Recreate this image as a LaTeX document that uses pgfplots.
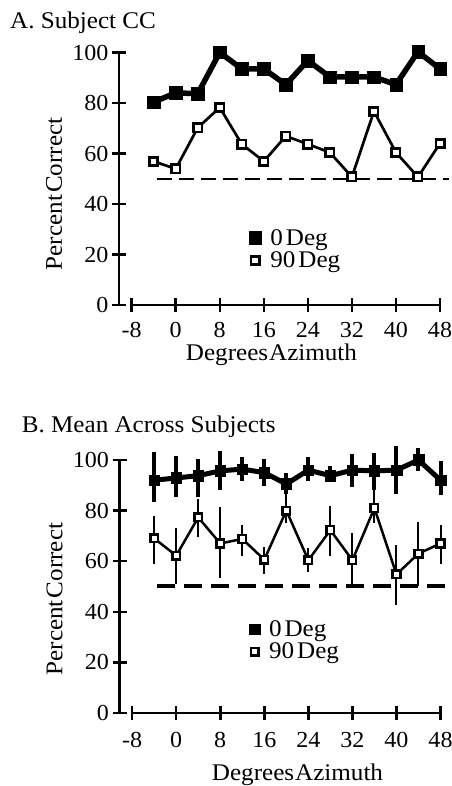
\documentclass[border=0pt]{standalone}
\usepackage{fontspec}
\setmainfont{Liberation Serif}[FakeStretch=1.05]
\usepackage{pgfplots}
\usepackage{pgfplotstable}
\pgfplotsset{compat=1.18}

% Panel A: Subject CC
\pgfplotstableread{
x y
-4 80.4
0 84.0
4 83.7
8 100
12 93.5
16 93.5
20 87.3
24 96.8
28 90.3
32 90.3
36 90.3
40 87.3
44 100.3
48 93.5
}\dataAzero
\pgfplotstableread{
x y
-4 56.9
0 53.9
4 70.2
8 78.2
12 63.7
16 56.9
20 66.9
24 63.7
28 60.4
32 50.7
36 76.7
40 60.4
44 50.7
48 64.0
}\dataAninety
% Panel B: Mean across subjects (y, error plus, error minus)
\pgfplotstableread{
x y ep em
-4 92.0 11.0 8.6
0 92.9 8.7 7.6
4 93.8 6.5 8.5
8 95.7 7.8 7.7
12 96.4 4.6 4.6
16 95.0 5.3 5.1
20 90.5 4.3 4.1
24 96.0 5.0 4.2
28 93.8 3.9 2.6
32 96.0 6.2 6.8
36 95.7 7.2 7.7
40 96.0 9.5 9.4
44 100.0 4.8 4.3
48 92.0 7.6 6.0
}\dataBzero
\pgfplotstableread{
x y ep em
-4 69.0 9.0 10.3
0 62.2 10.8 11.3
4 77.3 7.4 7.6
8 67.0 14.4 13.5
12 68.8 5.5 6.8
16 60.6 5.2 5.8
20 80.0 8.0 5.0
24 60.4 4.9 4.8
28 72.3 9.7 10.3
32 60.4 10.6 9.4
36 81.0 8.0 6.0
40 54.8 11.7 12.3
44 63.0 12.6 12.7
48 67.0 7.3 8.3
}\dataBninety

\pgfplotsset{
  panel/.style={
    scale only axis, width=321bp, height=252.5bp,
    xmin=-10.3, xmax=48, ymin=0, ymax=100,
    clip=false,
    axis x line*=bottom, axis y line*=left,
    x axis line style={draw=none},
    y axis line style={-, line width=2.5bp},
    xtick={-8,0,...,48}, ytick={0,20,...,100},
    tick align=center, major tick length=14bp,
    tick style={line width=2.5bp, black},
    /pgf/number format/assume math mode=true,
    ticklabel style={font=\fontsize{23}{26}\selectfont},
    xticklabel style={inner sep=0pt, yshift=-12.5bp},
    label style={font=\fontsize{24}{28}\selectfont, inner sep=0pt},
    xlabel={Degrees\kern1bp Azimuth},
    ylabel={Percent\kern2bp Correct},
    legend style={draw=none, fill=none, inner sep=0pt, outer sep=0pt,
      font=\fontsize{24}{28}\selectfont, row sep=5bp, column sep=9bp,
      nodes={inner sep=0pt}},
    legend cell align=left,
    legend image code/.code={\draw[##1] plot coordinates {(0bp,0bp)};},
  }
}

\begin{document}
\begin{tikzpicture}
\path[use as bounding box] (0bp,0bp) rectangle (452bp,786bp);
\node[anchor=base west, font=\fontsize{24}{28}\selectfont, inner sep=0pt] at (10bp,757bp) {A. Subject CC};
\node[anchor=base west, font=\fontsize{24}{28}\selectfont, inner sep=0pt] at (21.7bp,353bp) {B. Mean Across Subjects};

\begin{axis}[panel, at={(119bp,481bp)}, anchor=south west,
  xticklabel style={yshift=2bp},
  xlabel style={at={(axis description cs:0.475,-0.218)}, anchor=base},
  ylabel style={at={(axis description cs:-0.178,0.44)}, anchor=base},
  legend style={at={(axis cs:13.3,30)}, anchor=north west}]
\draw[line width=2.5bp] (axis cs:-8,0) -- (axis cs:48,0);
\addplot[black, line width=2bp, dash pattern=on 15bp off 7bp, forget plot] coordinates {(-3.4,50) (49.6,50)};
\addplot[black, line width=5.5bp, mark=square*,
  mark options={solid, line width=0.5bp, fill=black, mark size=6.2bp}] table[x=x,y=y] {\dataAzero};
\addlegendentry{0\kern3bp Deg}
\addplot[black, line width=2.7bp, mark=square*,
  mark options={solid, line width=2.7bp, fill=white, draw=black, mark size=4.15bp}] table[x=x,y=y] {\dataAninety};
\addlegendentry{90\kern3bp Deg}
\end{axis}

\begin{axis}[panel, at={(119.5bp,73bp)}, anchor=south west, height=253bp,
  xlabel style={at={(axis description cs:0.5545,-0.265)}, anchor=base},
  ylabel style={at={(axis description cs:-0.178,0.45)}, anchor=base},
  legend style={at={(axis cs:13.3,36.5)}, anchor=north west}]
\draw[line width=2.5bp] (axis cs:-8,0) -- (axis cs:48,0);
\addplot[black, line width=4bp, dash pattern=on 18bp off 9bp, forget plot] coordinates {(-3.4,50) (49.6,50)};
\addplot[black, line width=5bp, mark=square*,
  mark options={solid, line width=0.5bp, fill=black, mark size=5.3bp},
  error bars/.cd, y dir=both, y explicit, error mark=none,
  error bar style={line width=4bp, solid}] table[x=x,y=y,y error plus=ep,y error minus=em] {\dataBzero};
\addlegendentry{0\kern3bp Deg}
\addplot[black, line width=2.5bp, mark=square*,
  mark options={solid, line width=2.4bp, fill=white, draw=black, mark size=3.85bp},
  error bars/.cd, y dir=both, y explicit, error mark=none,
  error bar style={line width=2bp, solid}] table[x=x,y=y,y error plus=ep,y error minus=em] {\dataBninety};
\addlegendentry{90\kern3bp Deg}
\end{axis}
\end{tikzpicture}
\end{document}
